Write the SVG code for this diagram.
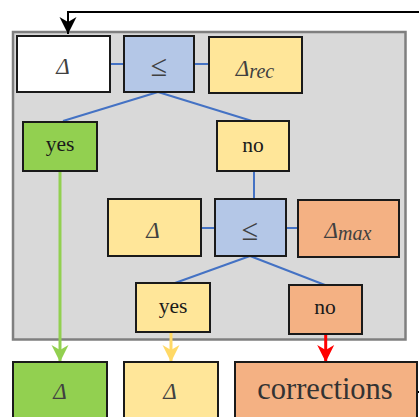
<svg xmlns="http://www.w3.org/2000/svg" width="419" height="417" viewBox="0 0 419 417">
  <style>
    .box { stroke: #1a1a1a; stroke-width: 2; }
    .white { fill: #ffffff; }
    .blue { fill: #B4C7E7; }
    .yellow { fill: #FFE699; }
    .green { fill: #92D050; }
    .orange { fill: #F4B183; }
    .link { stroke: #4472C4; stroke-width: 2; fill: none; }
    .sym { font-family: "Liberation Serif", "Times New Roman", serif; font-style: italic; fill: #404040; text-anchor: middle; font-size: 23px; }
    .sub { font-size: 20px; }
    .op { font-family: "Liberation Serif", "Times New Roman", serif; fill: #404040; text-anchor: middle; font-size: 30px; }
    .word { font-family: "Liberation Serif", "Times New Roman", serif; fill: #1a1a1a; text-anchor: middle; font-size: 21.5px; }
    .big { font-family: "Liberation Serif", "Times New Roman", serif; fill: #333333; text-anchor: middle; font-size: 30.5px; }
  </style>
  <defs>
    <marker id="head-black" markerUnits="userSpaceOnUse" markerWidth="18" markerHeight="18" viewBox="0 -9 18 18" refX="17" refY="0" orient="auto">
      <path d="M0,-8.5 L17,0 L0,8.5 L5,0 Z" fill="#000000"/>
    </marker>
    <marker id="head-green" markerUnits="userSpaceOnUse" markerWidth="18" markerHeight="18" viewBox="0 -9 18 18" refX="17" refY="0" orient="auto">
      <path d="M0,-8.5 L17,0 L0,8.5 L5,0 Z" fill="#92D050"/>
    </marker>
    <marker id="head-yellow" markerUnits="userSpaceOnUse" markerWidth="18" markerHeight="18" viewBox="0 -9 18 18" refX="17" refY="0" orient="auto">
      <path d="M0,-8.5 L17,0 L0,8.5 L5,0 Z" fill="#FFD966"/>
    </marker>
    <marker id="head-red" markerUnits="userSpaceOnUse" markerWidth="18" markerHeight="18" viewBox="0 -9 18 18" refX="17" refY="0" orient="auto">
      <path d="M0,-8.5 L17,0 L0,8.5 L5,0 Z" fill="#FF0000"/>
    </marker>
  </defs>

  <!-- decision block background -->
  <g id="decision-block">
    <rect x="13" y="32" width="392.5" height="307.5" fill="#D9D9D9" stroke="#7F7F7F" stroke-width="2.5"/>
  </g>

  <!-- connectors -->
  <g id="connectors">
    <path class="link" d="M110,64 L124,64"/>
    <path class="link" d="M194,64 L209,64"/>
    <path class="link" d="M158,92 L63,121"/>
    <path class="link" d="M158,92 L252,121"/>
    <path class="link" d="M254,171 L254,199"/>
    <path class="link" d="M201,228 L215,228"/>
    <path class="link" d="M286,228 L298,228"/>
    <path class="link" d="M250,256 L175,283"/>
    <path class="link" d="M250,256 L325,285"/>
    <path d="M60,171 L60,362" stroke="#92D050" stroke-width="3" fill="none" marker-end="url(#head-green)"/>
    <path d="M171,333 L171,362" stroke="#FFD966" stroke-width="3" fill="none" marker-end="url(#head-yellow)"/>
    <path d="M325.7,335 L325.7,362" stroke="#FF0000" stroke-width="3" fill="none" marker-end="url(#head-red)"/>
    <path d="M420,12 L68,12 L68,34" stroke="#000000" stroke-width="2" fill="none" marker-end="url(#head-black)"/>
    <path d="M417,392 L420,392" stroke="#000000" stroke-width="2" fill="none"/>
  </g>

  <!-- first comparison -->
  <g id="delta">
    <rect class="box white" x="17" y="36" width="93" height="56"/>
    <text class="sym" x="63" y="74">Δ</text>
  </g>
  <g id="compare-rec">
    <rect class="box blue" x="124" y="36" width="70" height="56"/>
    <text class="op" x="159" y="76">≤</text>
  </g>
  <g id="delta-rec">
    <rect class="box yellow" x="209" y="37" width="93" height="56"/>
    <text class="sym" x="255" y="76">Δ<tspan class="sub" dy="2">rec</tspan></text>
  </g>
  <g id="yes-1">
    <rect class="box green" x="23" y="122" width="74" height="49"/>
    <text class="word" x="60" y="151">yes</text>
  </g>
  <g id="no-1">
    <rect class="box yellow" x="217" y="121" width="72" height="50"/>
    <text class="word" x="253" y="152">no</text>
  </g>

  <!-- second comparison -->
  <g id="delta-2">
    <rect class="box yellow" x="108" y="199" width="93" height="57"/>
    <text class="sym" x="153" y="238">Δ</text>
  </g>
  <g id="compare-max">
    <rect class="box blue" x="215" y="199" width="71" height="57"/>
    <text class="op" x="250" y="240">≤</text>
  </g>
  <g id="delta-max">
    <rect class="box orange" x="298" y="200" width="101" height="57"/>
    <text class="sym" x="348" y="238">Δ<tspan class="sub" dy="2">max</tspan></text>
  </g>
  <g id="yes-2">
    <rect class="box yellow" x="136" y="283" width="74" height="49"/>
    <text class="word" x="173" y="313">yes</text>
  </g>
  <g id="no-2">
    <rect class="box orange" x="289" y="285" width="73" height="49"/>
    <text class="word" x="325" y="314">no</text>
  </g>

  <!-- outcomes -->
  <g id="out-accept">
    <rect class="box green" x="13" y="362" width="94" height="70"/>
    <text class="sym" x="60" y="399">Δ</text>
  </g>
  <g id="out-keep">
    <rect class="box yellow" x="124" y="362" width="94" height="70"/>
    <text class="sym" x="170" y="399">Δ</text>
  </g>
  <g id="out-corrections">
    <rect class="box orange" x="235" y="362" width="182" height="70"/>
    <text class="big" x="325" y="399">corrections</text>
  </g>
</svg>
